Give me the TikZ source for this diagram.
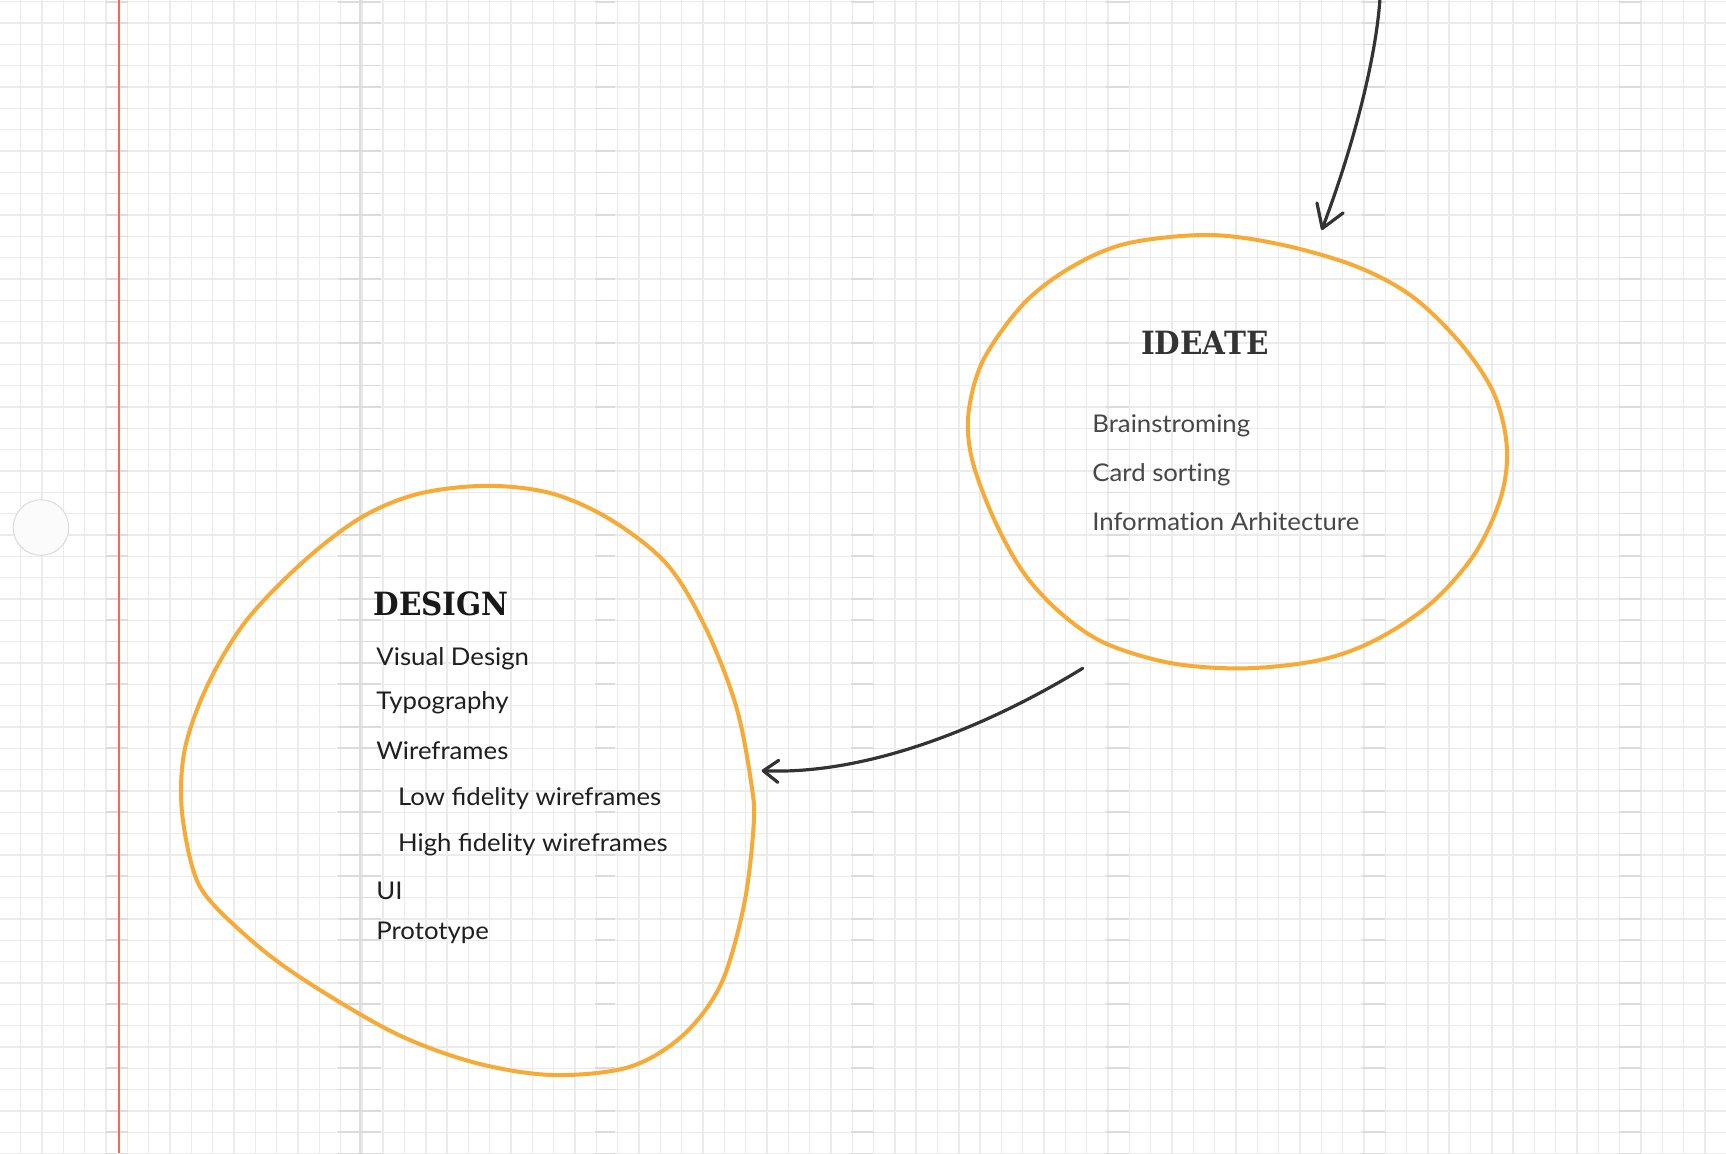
\documentclass[tikz,border=0pt]{standalone}
\usepackage{fontspec}
\usetikzlibrary{arrows.meta}
\newfontfamily\bodyfont[FakeStretch=1.055]{Lato}
\newfontfamily\titlefont[FakeStretch=0.92]{DejaVu Serif}
\definecolor{gridc}{HTML}{EBEBEB}
\definecolor{seamc}{HTML}{DCDCDC}
\definecolor{blobc}{HTML}{F7AA36}
\definecolor{inkc}{HTML}{333333}
\definecolor{marginc}{HTML}{F2695B}
\tikzset{
  gridline/.style={gridc, line width=0.7pt},
  seamline/.style={seamc, line width=0.8pt},
  blob/.style={blobc, line width=2pt, line join=round},
  connector/.style={inkc, line width=1.6pt, line cap=round},
  titletext/.style={anchor=base west, inner sep=0pt, font=\titlefont\bfseries\fontsize{16pt}{18pt}\selectfont},
  itemtext/.style={anchor=base west, inner sep=0pt, font=\bodyfont\fontsize{12.2pt}{14pt}\selectfont},
}
\begin{document}
\begin{tikzpicture}[x=0.5pt,y=-0.5pt]
\useasboundingbox (0,0) rectangle (1726,1153);
\fill[white] (0,0) rectangle (1726,1153);
% grid
\foreach \i in {0,...,81} \draw[gridline] ({21.32*\i-0.6},0) -- ({21.32*\i-0.6},1153);
\foreach \j in {0,...,54} \draw[gridline] (0,{1.7+21.33*\j}) -- (1726,{1.7+21.33*\j});
\foreach \a/\b in {106/128,338/381,595/615,851/873,1106/1129,1362/1385,1619/1641}
  \foreach \j in {0,...,54} \draw[seamline] (\a,{1.7+21.33*\j}) -- (\b,{1.7+21.33*\j});
\draw[seamc, line width=0.8pt] (360,0) -- (360,1153);
% margin line
\draw[marginc, line width=1pt] (118.5,0) -- (118.5,1153);
% punch hole
\node[circle, minimum size=27.8pt, inner sep=0pt, fill=white!98.5!black, draw=white!86!black, line width=0.5pt] (hole) at (41,527.5) {};
% IDEATE blob
\draw[blob] plot[smooth cycle, tension=0.55] coordinates {
 (1127.6,243.3) (1209,235) (1283,245) (1357,266.7) (1412.5,296.7) (1460.5,343.3)
 (1493.8,393.3) (1506.8,446.7) (1501,496.7) (1475,553.3) (1431,603.3) (1375.5,640)
 (1320,660) (1246,668.3) (1172,663.3) (1105.4,643.3) (1061,613.3) (1024,573.3)
 (994.4,520) (972.2,460) (968.5,413.3) (983.3,360) (1024,303.3) (1072,266.7)};
% DESIGN blob
\draw[blob] plot[smooth cycle, tension=0.55] coordinates {
 (487.6,485.8) (552.7,493.7) (612,520.5) (667.5,564.9) (705.8,628.2) (736.4,707.2)
 (751.7,786.3) (753.6,825.9) (744,905) (721,984) (682.8,1035.4) (629.2,1067)
 (552.7,1075) (476.2,1063) (399.6,1035.4) (323,991.9) (265.7,952.4) (212,903)
 (193,869.4) (181.5,806) (185.3,746.8) (208.3,683.5) (246.5,620.3) (304,561)
 (361.3,517.4) (418.8,493.7)};
% texts
\node[titletext, text=inkc] (ideate) at (1140.7,354) {IDEATE};
\node[itemtext, text=black!72] (brain) at (1092,432.7) {Brainstroming};
\node[itemtext, text=black!72] (card) at (1092,481) {Card sort\kern0pt ing};
\node[itemtext, text=black!72] (info) at (1092,530) {Informat\kern0pt ion Arhitecture};
\node[titletext, text=black!90] (design) at (373.3,615) {DESIGN};
\node[itemtext, text=black!88] (visual) at (376,665) {Visual Design};
\node[itemtext, text=black!88] (typo) at (376,709.3) {Typography};
\node[itemtext, text=black!88] (wire) at (376,759.3) {Wireframes};
\node[itemtext, text=black!88] (low) at (397.7,805) {Low fidelity wireframes};
\node[itemtext, text=black!88] (high) at (397.7,851.7) {High fidelity wireframes};
\node[itemtext, text=black!88] (ui) at (376,899.3) {UI};
\node[itemtext, text=black!88] (proto) at (376,939.3) {Prototype};
% connectors
\coordinate (topin) at (1380,-2);
\coordinate (ideatein) at (1321.7,230);
\coordinate (ideateout) at (1082.7,668.3);
\coordinate (designin) at (761.7,770.7);
\draw[connector, -{Straight Barb[length=11pt,width=14pt,round]}] (topin) .. controls (1376,60) and (1352,150) .. (ideatein);
\draw[connector, -{Straight Barb[length=7.5pt,width=11pt,round]}] (ideateout) .. controls (990,725) and (870,775) .. (designin);
\end{tikzpicture}
\end{document}
